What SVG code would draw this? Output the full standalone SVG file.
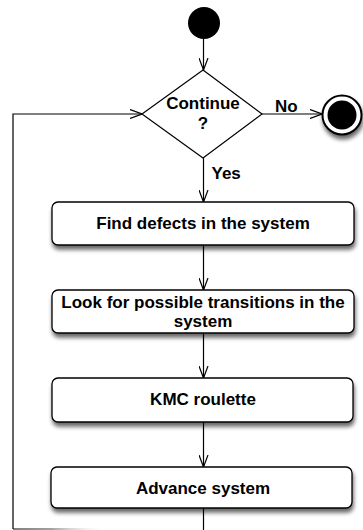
<svg xmlns="http://www.w3.org/2000/svg" width="363" height="530" viewBox="0 0 363 530">
  <style>
    .label { font-family: "Liberation Sans", Arial, Helvetica, sans-serif; font-weight: bold; font-size: 17px; fill: #000; }
    .mid { text-anchor: middle; }
    .box { fill: #fff; stroke: #000; stroke-width: 1.3; filter: url(#shadow); }
    .edge { fill: none; stroke: #000; stroke-width: 1.2; }
  </style>
  <defs>
    <marker id="open" viewBox="0 0 12 10" refX="12" refY="5" markerWidth="12" markerHeight="10" markerUnits="userSpaceOnUse" orient="auto">
      <path d="M0,0.5 L12,5 L0,9.5" fill="none" stroke="#000" stroke-width="1.2"/>
    </marker>
    <filter id="shadow" x="-10%" y="-20%" width="125%" height="160%">
      <feGaussianBlur in="SourceAlpha" stdDeviation="2.2"/>
      <feOffset dx="1" dy="4" result="b"/>
      <feComponentTransfer><feFuncA type="linear" slope="0.6"/></feComponentTransfer>
      <feMerge><feMergeNode/><feMergeNode in="SourceGraphic"/></feMerge>
    </filter>
    <linearGradient id="fade" gradientUnits="userSpaceOnUse" x1="13" y1="0" x2="204" y2="0">
      <stop offset="0" stop-color="#000"/>
      <stop offset="0.2" stop-color="#444"/>
      <stop offset="0.5" stop-color="#fff" stop-opacity="0"/>
    </linearGradient>
  </defs>

  <!-- connectors -->
  <g id="connectors">
    <line class="edge" x1="203.5" y1="39" x2="203.5" y2="70" marker-end="url(#open)"/>
    <line class="edge" x1="262" y1="114" x2="322" y2="114" marker-end="url(#open)"/>
    <line class="edge" x1="203.5" y1="158" x2="203.5" y2="202" marker-end="url(#open)"/>
    <line class="edge" x1="203.5" y1="245" x2="203.5" y2="290" marker-end="url(#open)"/>
    <line class="edge" x1="203.5" y1="333" x2="203.5" y2="378" marker-end="url(#open)"/>
    <line class="edge" x1="203.5" y1="422" x2="203.5" y2="467" marker-end="url(#open)"/>
    <line class="edge" x1="203.5" y1="508" x2="203.5" y2="530"/>
    <line x1="13" y1="529" x2="204" y2="529" stroke="url(#fade)" stroke-width="1.2"/>
    <polyline class="edge" points="13,529 13,114 142,114" marker-end="url(#open)"/>
    <text class="label" x="275" y="111.5">No</text>
    <text class="label" x="211.5" y="179">Yes</text>
  </g>

  <g id="start">
    <circle cx="204" cy="23" r="16" fill="#000"/>
  </g>

  <g id="decision">
    <polygon points="203,70 262,114 203,158 142,114" fill="#fff" stroke="#000" stroke-width="1.2"/>
    <text class="label mid" x="203" y="109.3">Continue</text>
    <text class="label mid" x="203" y="129">?</text>
  </g>

  <g id="end">
    <circle cx="342" cy="115" r="19.5" fill="#fff" stroke="#000" stroke-width="2" filter="url(#shadow)"/>
    <circle cx="342" cy="115" r="14.5" fill="#000"/>
  </g>

  <g id="find-defects">
    <rect class="box" x="52" y="202" width="302" height="43" rx="6"/>
    <text class="label mid" x="203" y="229.3">Find defects in the system</text>
  </g>

  <g id="look-transitions">
    <rect class="box" x="52" y="290" width="302" height="43" rx="6"/>
    <text class="label mid" x="203" y="307.5">Look for possible transitions in the</text>
    <text class="label mid" x="203" y="327">system</text>
  </g>

  <g id="kmc-roulette">
    <rect class="box" x="52" y="378" width="301" height="44" rx="6"/>
    <text class="label mid" x="203" y="405">KMC roulette</text>
  </g>

  <g id="advance-system">
    <rect class="box" x="51" y="467" width="301" height="41" rx="6"/>
    <text class="label mid" x="203" y="494">Advance system</text>
  </g>
</svg>
